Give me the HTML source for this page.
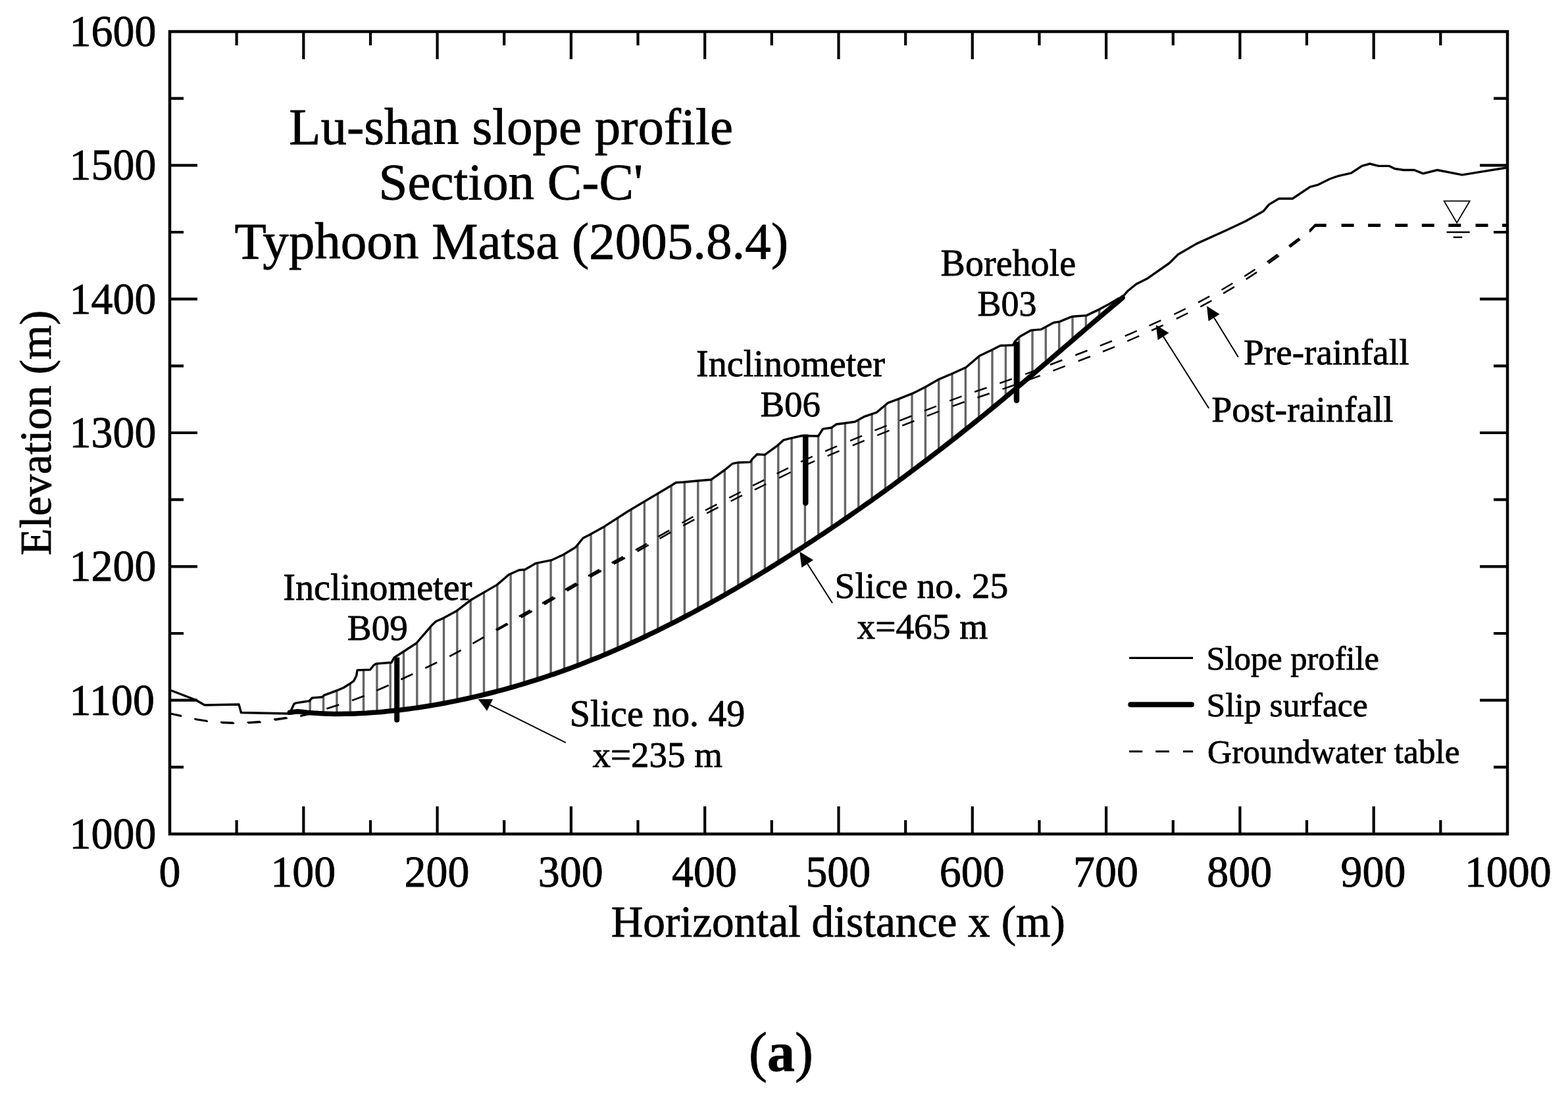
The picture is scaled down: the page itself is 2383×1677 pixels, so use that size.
<!DOCTYPE html>
<html><head><meta charset="utf-8"><title>Lu-shan slope profile</title>
<style>html,body{margin:0;padding:0;background:#fff;}svg{display:block;}
text{font-family:"Liberation Serif","Times New Roman",serif;fill:#000;stroke:#000;stroke-width:0.8px;stroke-linejoin:round;}</style></head>
<body><svg xmlns="http://www.w3.org/2000/svg" width="2383" height="1677" viewBox="0 0 2383 1677">
<rect width="2383" height="1677" fill="#fff"/>
<rect x="258.0" y="48.0" width="2033.0" height="1220.0" fill="none" stroke="#000" stroke-width="4.5"/>
<path d="M359.6 1268.0V1247.0M359.6 48.0V69.0M461.3 1268.0V1226.0M461.3 48.0V90.0M563.0 1268.0V1247.0M563.0 48.0V69.0M664.6 1268.0V1226.0M664.6 48.0V90.0M766.2 1268.0V1247.0M766.2 48.0V69.0M867.9 1268.0V1226.0M867.9 48.0V90.0M969.5 1268.0V1247.0M969.5 48.0V69.0M1071.2 1268.0V1226.0M1071.2 48.0V90.0M1172.8 1268.0V1247.0M1172.8 48.0V69.0M1274.5 1268.0V1226.0M1274.5 48.0V90.0M1376.2 1268.0V1247.0M1376.2 48.0V69.0M1477.8 1268.0V1226.0M1477.8 48.0V90.0M1579.5 1268.0V1247.0M1579.5 48.0V69.0M1681.1 1268.0V1226.0M1681.1 48.0V90.0M1782.8 1268.0V1247.0M1782.8 48.0V69.0M1884.4 1268.0V1226.0M1884.4 48.0V90.0M1986.0 1268.0V1247.0M1986.0 48.0V69.0M2087.7 1268.0V1226.0M2087.7 48.0V90.0M2189.3 1268.0V1247.0M2189.3 48.0V69.0M258.0 1166.3H279.0M2291.0 1166.3H2270.0M258.0 1064.7H300.0M2291.0 1064.7H2249.0M258.0 963.0H279.0M2291.0 963.0H2270.0M258.0 861.3H300.0M2291.0 861.3H2249.0M258.0 759.7H279.0M2291.0 759.7H2270.0M258.0 658.0H300.0M2291.0 658.0H2249.0M258.0 556.3H279.0M2291.0 556.3H2270.0M258.0 454.7H300.0M2291.0 454.7H2249.0M258.0 353.0H279.0M2291.0 353.0H2270.0M258.0 251.3H300.0M2291.0 251.3H2249.0M258.0 149.7H279.0M2291.0 149.7H2270.0" stroke="#000" stroke-width="4.2" fill="none"/>
<text transform="translate(105.6,1289.8) scale(1,1.035)" font-size="65.94">1000</text>
<text transform="translate(105.6,1086.5) scale(1,1.035)" font-size="65.94">1100</text>
<text transform="translate(105.6,883.2) scale(1,1.035)" font-size="65.94">1200</text>
<text transform="translate(105.6,679.8) scale(1,1.035)" font-size="65.94">1300</text>
<text transform="translate(105.6,476.5) scale(1,1.035)" font-size="65.94">1400</text>
<text transform="translate(105.6,273.2) scale(1,1.035)" font-size="65.94">1500</text>
<text transform="translate(105.6,69.8) scale(1,1.035)" font-size="65.94">1600</text>
<text transform="translate(241.5,1347.5) scale(1,1.035)" font-size="65.94">0</text>
<text transform="translate(411.2,1347.8) scale(1,1.035)" font-size="65.94">100</text>
<text transform="translate(614.5,1347.8) scale(1,1.035)" font-size="65.94">200</text>
<text transform="translate(817.8,1347.8) scale(1,1.035)" font-size="65.94">300</text>
<text transform="translate(1021.1,1347.8) scale(1,1.035)" font-size="65.94">400</text>
<text transform="translate(1224.4,1347.8) scale(1,1.035)" font-size="65.94">500</text>
<text transform="translate(1427.7,1347.8) scale(1,1.035)" font-size="65.94">600</text>
<text transform="translate(1631.0,1347.8) scale(1,1.035)" font-size="65.94">700</text>
<text transform="translate(1834.3,1347.8) scale(1,1.035)" font-size="65.94">800</text>
<text transform="translate(2037.6,1347.8) scale(1,1.035)" font-size="65.94">900</text>
<text transform="translate(2225.9,1347.8) scale(1,1.035)" font-size="65.94">1000</text>
<path d="M471.2 1064.6V1083.7M491.5 1058.1V1084.9M511.9 1049.9V1085.4M532.2 1039.3V1085.2M552.5 1018.6V1084.3M572.9 1009.0V1083.0M593.2 1007.3V1081.1M613.5 990.5V1078.8M633.8 976.7V1076.0M654.2 953.1V1072.8M674.5 939.5V1069.3M694.8 928.2V1065.3M715.2 912.5V1060.9M735.5 900.7V1056.1M755.8 888.7V1051.0M776.1 872.5V1045.4M796.5 866.1V1039.5M816.8 855.9V1033.1M837.1 851.9V1026.4M857.5 842.6V1019.3M877.8 828.3V1011.8M898.1 811.8V1003.8M918.5 800.5V995.5M938.8 787.4V986.8M959.1 774.5V977.7M979.4 762.4V968.3M999.8 750.3V958.5M1020.1 738.2V948.3M1040.4 732.9V937.8M1060.8 731.0V927.0M1081.1 729.0V915.8M1101.4 714.5V904.3M1121.8 703.3V892.6M1142.1 699.6V880.5M1162.4 691.4V868.2M1182.8 676.3V855.6M1203.1 666.1V842.7M1223.4 662.6V829.6M1243.7 662.9V816.3M1264.1 650.0V802.7M1284.4 643.3V788.8M1304.7 638.3V774.7M1325.1 629.5V760.4M1345.4 616.0V745.9M1365.7 606.5V731.1M1386.0 598.6V716.0M1406.4 588.5V700.7M1426.7 576.8V685.2M1447.0 568.1V669.4M1467.4 558.9V653.3M1487.7 541.8V637.0M1508.0 531.8V620.5M1528.4 525.2V603.7M1548.7 512.9V586.8M1569.0 502.0V569.6M1589.3 496.9V552.3M1609.7 489.2V534.8M1630.0 481.2V517.4M1650.3 479.7V499.9M1670.7 470.4V482.6" stroke="#666" stroke-width="3.4" fill="none"/>
<path d="M1990.2 350.5L1998.8 341.6L2015.7 341.6M2038.6 341.6H2057.6M2079.1 341.6H2098.1M2120.3 341.6H2139.3M2160.8 341.6H2179.8M2201.3 341.6H2220.3M2242.5 341.6H2261.5M2283.0 341.6H2291.0M1990.2 352.5L1998.8 343.6L2015.7 343.6M2038.6 343.6H2057.6M2079.1 343.6H2098.1M2120.3 343.6H2139.3M2160.8 343.6H2179.8M2201.3 343.6H2220.3M2242.5 343.6H2261.5M2283.0 343.6H2291.0" stroke="#000" stroke-width="2.6" fill="none"/>
<g stroke="#000"><line x1="258.0" y1="1084.5" x2="274.8" y2="1088.0" stroke-width="2.40"/><line x1="258.0" y1="1085.1" x2="276.3" y2="1089.0" stroke-width="2.40"/><line x1="295.2" y1="1092.9" x2="314.5" y2="1095.9" stroke-width="2.40"/><line x1="296.7" y1="1093.9" x2="316.0" y2="1096.9" stroke-width="2.40"/><line x1="335.1" y1="1098.0" x2="354.6" y2="1098.8" stroke-width="2.40"/><line x1="336.6" y1="1099.0" x2="356.1" y2="1099.8" stroke-width="2.40"/><line x1="375.6" y1="1098.4" x2="395.1" y2="1097.0" stroke-width="2.40"/><line x1="377.1" y1="1099.4" x2="396.6" y2="1098.0" stroke-width="2.40"/><line x1="416.1" y1="1093.7" x2="435.4" y2="1090.9" stroke-width="2.40"/><line x1="417.6" y1="1094.7" x2="436.9" y2="1091.9" stroke-width="2.40"/><line x1="456.1" y1="1088.5" x2="475.1" y2="1084.1" stroke-width="2.33"/><line x1="456.9" y1="1088.9" x2="475.9" y2="1084.5" stroke-width="2.33"/><line x1="496.4" y1="1077.4" x2="514.9" y2="1071.4" stroke-width="2.30"/><line x1="496.7" y1="1077.6" x2="515.2" y2="1071.6" stroke-width="2.30"/><line x1="535.0" y1="1064.8" x2="553.3" y2="1058.0" stroke-width="2.30"/><line x1="535.3" y1="1065.0" x2="553.6" y2="1058.2" stroke-width="2.30"/><line x1="572.4" y1="1049.7" x2="590.3" y2="1041.9" stroke-width="2.30"/><line x1="572.7" y1="1049.9" x2="590.6" y2="1042.1" stroke-width="2.30"/><line x1="609.3" y1="1032.9" x2="627.0" y2="1024.7" stroke-width="2.30"/><line x1="609.6" y1="1033.1" x2="627.3" y2="1024.9" stroke-width="2.30"/><line x1="646.4" y1="1015.6" x2="663.9" y2="1007.0" stroke-width="2.30"/><line x1="646.7" y1="1015.8" x2="664.2" y2="1007.2" stroke-width="2.30"/><line x1="683.2" y1="997.7" x2="700.5" y2="988.5" stroke-width="2.30"/><line x1="683.5" y1="997.9" x2="700.8" y2="988.7" stroke-width="2.30"/><line x1="718.4" y1="978.2" x2="735.3" y2="968.6" stroke-width="2.30"/><line x1="718.7" y1="978.4" x2="735.6" y2="968.8" stroke-width="2.30"/><line x1="753.6" y1="957.5" x2="770.7" y2="948.0" stroke-width="2.60"/><line x1="755.1" y1="958.4" x2="772.2" y2="948.9" stroke-width="2.60"/><line x1="788.9" y1="937.3" x2="805.9" y2="927.8" stroke-width="3.00"/><line x1="791.7" y1="938.8" x2="808.7" y2="929.3" stroke-width="3.00"/><line x1="824.2" y1="917.4" x2="841.0" y2="907.5" stroke-width="3.00"/><line x1="827.0" y1="918.9" x2="843.8" y2="909.0" stroke-width="3.00"/><line x1="859.0" y1="896.6" x2="875.8" y2="886.7" stroke-width="3.00"/><line x1="861.8" y1="898.1" x2="878.6" y2="888.2" stroke-width="3.00"/><line x1="894.0" y1="875.8" x2="911.0" y2="866.1" stroke-width="3.00"/><line x1="896.8" y1="877.3" x2="913.8" y2="867.6" stroke-width="3.00"/><line x1="929.8" y1="855.9" x2="947.0" y2="846.6" stroke-width="3.00"/><line x1="932.6" y1="857.4" x2="949.8" y2="848.1" stroke-width="3.00"/><line x1="966.0" y1="836.2" x2="983.0" y2="826.6" stroke-width="2.80"/><line x1="968.6" y1="838.2" x2="985.6" y2="828.6" stroke-width="2.80"/><line x1="1000.3" y1="816.0" x2="1017.2" y2="806.4" stroke-width="2.70"/><line x1="1002.6" y1="818.8" x2="1019.5" y2="809.2" stroke-width="2.70"/><line x1="1036.4" y1="795.0" x2="1053.5" y2="785.7" stroke-width="2.50"/><line x1="1038.3" y1="799.1" x2="1055.4" y2="789.8" stroke-width="2.50"/><line x1="1072.0" y1="775.8" x2="1089.4" y2="766.8" stroke-width="2.50"/><line x1="1074.2" y1="780.4" x2="1091.6" y2="771.4" stroke-width="2.50"/><line x1="1108.2" y1="756.8" x2="1125.6" y2="748.0" stroke-width="2.50"/><line x1="1110.6" y1="762.0" x2="1128.0" y2="753.2" stroke-width="2.50"/><line x1="1143.9" y1="738.4" x2="1161.3" y2="729.8" stroke-width="2.50"/><line x1="1146.9" y1="744.6" x2="1164.3" y2="736.0" stroke-width="2.50"/><line x1="1180.6" y1="720.2" x2="1198.1" y2="711.6" stroke-width="2.50"/><line x1="1184.1" y1="726.6" x2="1201.6" y2="718.0" stroke-width="2.50"/><line x1="1217.0" y1="702.1" x2="1234.7" y2="694.1" stroke-width="2.50"/><line x1="1220.5" y1="708.9" x2="1238.2" y2="700.9" stroke-width="2.50"/><line x1="1254.2" y1="686.0" x2="1272.1" y2="678.4" stroke-width="2.50"/><line x1="1257.7" y1="693.2" x2="1275.6" y2="685.6" stroke-width="2.50"/><line x1="1292.1" y1="670.1" x2="1310.1" y2="662.6" stroke-width="2.50"/><line x1="1295.7" y1="677.4" x2="1313.7" y2="669.9" stroke-width="2.50"/><line x1="1329.4" y1="654.4" x2="1347.6" y2="647.2" stroke-width="2.50"/><line x1="1333.2" y1="661.8" x2="1351.4" y2="654.6" stroke-width="2.50"/><line x1="1367.2" y1="639.6" x2="1385.4" y2="632.5" stroke-width="2.50"/><line x1="1371.2" y1="647.1" x2="1389.4" y2="640.0" stroke-width="2.50"/><line x1="1404.9" y1="624.7" x2="1423.0" y2="617.7" stroke-width="2.50"/><line x1="1409.0" y1="632.3" x2="1427.1" y2="625.3" stroke-width="2.50"/><line x1="1443.2" y1="609.4" x2="1461.5" y2="602.7" stroke-width="2.50"/><line x1="1447.5" y1="617.7" x2="1465.8" y2="611.0" stroke-width="2.50"/><line x1="1481.2" y1="595.8" x2="1499.6" y2="589.5" stroke-width="2.50"/><line x1="1485.4" y1="604.5" x2="1503.8" y2="598.2" stroke-width="2.50"/><line x1="1519.4" y1="582.6" x2="1537.8" y2="576.2" stroke-width="2.50"/><line x1="1523.6" y1="591.6" x2="1542.0" y2="585.2" stroke-width="2.50"/><line x1="1558.2" y1="568.8" x2="1576.5" y2="562.1" stroke-width="2.50"/><line x1="1562.5" y1="577.9" x2="1580.8" y2="571.2" stroke-width="2.50"/><line x1="1596.1" y1="554.5" x2="1614.3" y2="547.5" stroke-width="2.50"/><line x1="1600.5" y1="563.7" x2="1618.7" y2="556.7" stroke-width="2.50"/><line x1="1634.3" y1="540.0" x2="1652.5" y2="533.0" stroke-width="2.50"/><line x1="1638.7" y1="549.0" x2="1656.9" y2="542.0" stroke-width="2.50"/><line x1="1671.9" y1="525.7" x2="1689.9" y2="518.5" stroke-width="2.50"/><line x1="1676.1" y1="534.5" x2="1694.1" y2="527.3" stroke-width="2.50"/><line x1="1709.8" y1="510.9" x2="1727.7" y2="503.2" stroke-width="2.50"/><line x1="1713.3" y1="518.6" x2="1731.2" y2="510.9" stroke-width="2.50"/><line x1="1746.6" y1="495.2" x2="1764.3" y2="487.1" stroke-width="2.50"/><line x1="1750.1" y1="502.5" x2="1767.8" y2="494.4" stroke-width="2.50"/><line x1="1784.3" y1="478.0" x2="1801.8" y2="469.4" stroke-width="2.50"/><line x1="1787.8" y1="484.6" x2="1805.3" y2="476.0" stroke-width="2.50"/><line x1="1821.0" y1="459.9" x2="1838.1" y2="450.7" stroke-width="2.50"/><line x1="1824.3" y1="466.3" x2="1841.4" y2="457.1" stroke-width="2.50"/><line x1="1856.5" y1="440.7" x2="1873.3" y2="430.7" stroke-width="2.50"/><line x1="1859.1" y1="446.1" x2="1875.9" y2="436.1" stroke-width="2.50"/><line x1="1891.1" y1="420.3" x2="1907.5" y2="409.6" stroke-width="2.51"/><line x1="1893.7" y1="424.6" x2="1910.1" y2="413.9" stroke-width="2.51"/><line x1="1925.9" y1="398.3" x2="1941.7" y2="386.9" stroke-width="2.80"/><line x1="1927.9" y1="400.3" x2="1943.7" y2="388.9" stroke-width="2.80"/><line x1="1958.8" y1="374.1" x2="1974.3" y2="362.3" stroke-width="2.70"/><line x1="1960.3" y1="375.7" x2="1975.8" y2="363.9" stroke-width="2.70"/></g>
<polyline points="258.0,1049.0 297.0,1064.0 311.0,1072.0 363.0,1071.0 366.5,1083.5 440.0,1085.0 446.9,1070.2 449.5,1068.9 470.3,1065.7 474.2,1061.1 489.8,1059.8 492.4,1057.2 513.2,1049.4 522.3,1045.5 532.6,1039.0 537.8,1035.1 541.7,1027.3 543.0,1018.9 562.5,1018.2 567.7,1011.7 571.6,1009.1 595.0,1007.2 598.9,1000.0 632.7,978.0 657.4,949.4 662.6,944.8 674.3,939.6 694.2,928.7 714.7,912.8 755.0,889.4 773.2,873.8 788.8,866.7 797.8,866.0 814.7,856.3 838.1,851.7 856.3,843.3 874.5,832.3 886.2,818.0 895.3,813.4 918.7,800.4 955.0,777.0 1021.3,737.5 1027.2,733.8 1039.1,733.0 1062.9,730.8 1080.7,729.3 1101.5,714.5 1113.4,704.8 1120.8,703.3 1140.1,702.6 1143.1,698.1 1150.5,690.7 1162.4,691.4 1181.7,677.3 1190.6,669.2 1202.5,666.2 1218.6,662.5 1243.7,663.0 1250.6,652.1 1263.8,650.2 1271.2,645.0 1283.1,643.5 1299.4,641.2 1314.3,633.1 1332.1,627.1 1349.9,612.3 1366.2,606.3 1387.0,598.2 1406.3,588.5 1427.1,576.6 1447.9,567.7 1468.2,558.5 1488.6,541.0 1508.6,531.5 1520.4,525.5 1539.5,524.7 1542.9,518.6 1549.9,511.7 1567.2,502.1 1582.0,500.9 1601.3,490.5 1610.2,489.1 1626.5,482.4 1630.0,481.2 1651.2,479.6 1671.2,470.1 1685.7,462.3 1699.6,453.9 1705.2,452.3 1713.5,442.8 1726.7,432.0 1743.1,423.8 1777.2,400.0 1790.6,386.7 1818.8,370.4 1863.4,350.3 1893.1,336.2 1919.8,321.3 1928.7,310.9 1943.6,302.0 1964.4,302.0 1991.1,284.2 2003.5,280.8 2021.1,272.0 2034.6,267.3 2053.5,263.2 2069.7,252.4 2081.8,249.0 2095.3,252.4 2111.5,252.4 2119.6,256.5 2133.1,258.5 2149.3,258.5 2162.8,263.9 2184.4,258.5 2222.2,265.9 2246.5,261.9 2289.0,255.0" fill="none" stroke="#000" stroke-width="3.4" stroke-linejoin="round"/>
<polyline points="440.4,1083.3 452.0,1081.7 460.0,1082.6 468.0,1083.4 476.0,1084.1 484.0,1084.6 492.0,1084.9 500.0,1085.2 508.0,1085.4 516.0,1085.4 524.0,1085.3 532.0,1085.2 540.0,1084.9 548.0,1084.6 556.0,1084.2 564.0,1083.6 572.0,1083.1 580.0,1082.4 588.0,1081.6 596.0,1080.8 604.0,1079.9 612.0,1079.0 620.0,1078.0 628.0,1076.9 636.0,1075.7 644.0,1074.5 652.0,1073.2 660.0,1071.9 668.0,1070.5 676.0,1069.0 684.0,1067.4 692.0,1065.9 700.0,1064.2 708.0,1062.5 716.0,1060.7 724.0,1058.9 732.0,1057.0 740.0,1055.0 748.0,1053.0 756.0,1050.9 764.0,1048.8 772.0,1046.6 780.0,1044.3 788.0,1042.0 796.0,1039.6 804.0,1037.2 812.0,1034.7 820.0,1032.1 828.0,1029.5 836.0,1026.8 844.0,1024.1 852.0,1021.2 860.0,1018.4 868.0,1015.4 876.0,1012.4 884.0,1009.4 892.0,1006.3 900.0,1003.1 908.0,999.9 916.0,996.6 924.0,993.2 932.0,989.8 940.0,986.3 948.0,982.8 956.0,979.2 964.0,975.5 972.0,971.8 980.0,968.0 988.0,964.2 996.0,960.3 1004.0,956.4 1012.0,952.4 1020.0,948.4 1028.0,944.3 1036.0,940.1 1044.0,935.9 1052.0,931.7 1060.0,927.4 1068.0,923.0 1076.0,918.6 1084.0,914.2 1092.0,909.7 1100.0,905.2 1108.0,900.6 1116.0,895.9 1124.0,891.3 1132.0,886.5 1140.0,881.8 1148.0,877.0 1156.0,872.1 1164.0,867.2 1172.0,862.3 1180.0,857.3 1188.0,852.3 1196.0,847.2 1204.0,842.1 1212.0,837.0 1220.0,831.8 1228.0,826.6 1236.0,821.4 1244.0,816.1 1252.0,810.8 1260.0,805.4 1268.0,800.0 1276.0,794.6 1284.0,789.1 1292.0,783.6 1300.0,778.0 1308.0,772.5 1316.0,766.8 1324.0,761.2 1332.0,755.5 1340.0,749.8 1348.0,744.0 1356.0,738.2 1364.0,732.3 1372.0,726.5 1380.0,720.5 1388.0,714.6 1396.0,708.6 1404.0,702.5 1412.0,696.5 1420.0,690.3 1428.0,684.2 1436.0,678.0 1444.0,671.8 1452.0,665.5 1460.0,659.2 1468.0,652.8 1476.0,646.5 1484.0,640.0 1492.0,633.6 1500.0,627.1 1508.0,620.5 1516.0,614.0 1524.0,607.4 1532.0,600.7 1540.0,594.0 1548.0,587.3 1556.0,580.6 1564.0,573.8 1572.0,567.1 1580.0,560.2 1588.0,553.4 1596.0,546.6 1604.0,539.7 1612.0,532.8 1620.0,526.0 1628.0,519.1 1636.0,512.2 1644.0,505.3 1652.0,498.5 1660.0,491.7 1668.0,484.8 1676.0,478.1 1684.0,471.3 1692.0,464.6 1700.0,458.0 1706.0,452.6" fill="none" stroke="#000" stroke-width="7.5" stroke-linejoin="round" stroke-linecap="round"/>
<path d="M599.2 999.5H607.2V1094.5A4.0 4.0 0 0 1 599.2 1094.5Z" fill="#000"/>
<path d="M1220.0 660.5H1228.5V764.8A4.25 4.25 0 0 1 1220.0 764.8Z" fill="#000"/>
<path d="M1540.7 519.5H1549.2V608.8A4.25 4.25 0 0 1 1540.7 608.8Z" fill="#000"/>
<line x1="744.6" y1="1071.8" x2="859.9" y2="1129.2" stroke="#000" stroke-width="2.0"/>
<polygon points="726.7,1062.9 740.1,1080.8 749.1,1062.9" fill="#000"/>
<line x1="1227.1" y1="857.3" x2="1265.0" y2="916.8" stroke="#000" stroke-width="2.0"/>
<polygon points="1215.3,838.7 1218.3,862.9 1236.0,851.6" fill="#000"/>
<line x1="1768.0" y1="511.6" x2="1837.2" y2="620.7" stroke="#000" stroke-width="2.0"/>
<polygon points="1756.8,493.9 1759.6,517.0 1776.5,506.3" fill="#000"/>
<line x1="1845.1" y1="483.1" x2="1881.9" y2="542.9" stroke="#000" stroke-width="2.0"/>
<polygon points="1834.1,465.2 1836.6,488.3 1853.6,477.8" fill="#000"/>
<polygon points="2194.6,305.7 2233.7,305.7 2214.1,338.8" fill="none" stroke="#000" stroke-width="1.8" stroke-linejoin="miter"/>
<path d="M2198.6 353H2233.7M2208.7 360.8H2222.2" stroke="#000" stroke-width="2.6"/>
<path d="M1716.2 1000.4H1813.1" stroke="#000" stroke-width="3.3"/>
<path d="M1718.3 1071.3H1810.9" stroke="#000" stroke-width="8" stroke-linecap="round"/>
<path d="M1716.2 1142.6H1736.2M1756.3 1142.6H1776.9M1798 1142.6H1813.1" stroke="#000" stroke-width="3"/>
<text x="439.3" y="218.6" font-size="78.89">Lu-shan slope profile</text>
<text x="575.6" y="303.4" font-size="78.82">Section C-C'</text>
<text x="356.6" y="392.9" font-size="79.03">Typhoon Matsa (2005.8.4)</text>
<text x="1429.6" y="419.4" font-size="56.06">Borehole</text>
<text x="1485.5" y="479.8" font-size="53.94">B03</text>
<text x="1058.0" y="572.3" font-size="56.17">Inclinometer</text>
<text x="1155.5" y="632.8" font-size="54.91">B06</text>
<text x="430.3" y="911.5" font-size="56.19">Inclinometer</text>
<text x="527.8" y="972.9" font-size="55.25">B09</text>
<text x="1268.5" y="909.4" font-size="55.56">Slice no. 25</text>
<text x="1302.5" y="970.8" font-size="55.38">x=465 m</text>
<text x="865.7" y="1103.8" font-size="56.14">Slice no. 49</text>
<text x="900.5" y="1165.6" font-size="55.04">x=235 m</text>
<text x="1890.1" y="554.0" font-size="55.22">Pre-rainfall</text>
<text x="1841.3" y="640.7" font-size="55.89">Post-rainfall</text>
<text x="1833.6" y="1017.9" font-size="50.53">Slope profile</text>
<text x="1833.5" y="1088.8" font-size="51.64">Slip surface</text>
<text x="1835.1" y="1159.5" font-size="51.35">Groundwater table</text>
<text x="928.7" y="1423.9" font-size="67.38">Horizontal distance x (m)</text>
<text transform="translate(77.0,844.5) rotate(-90)" font-size="67.45">Elevation (m)</text>
<text x="1187" y="1628" font-size="84" text-anchor="middle">(<tspan font-weight="700">a</tspan>)</text>
</svg></body></html>
